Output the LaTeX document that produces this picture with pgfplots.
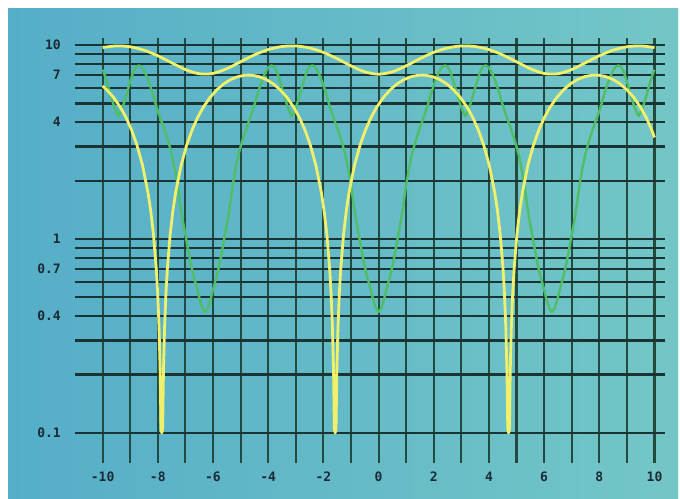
\documentclass[border=0pt]{standalone}
\usepackage{pgfplots}
\pgfplotsset{compat=1.18}
\usepackage{fontspec}
\setmainfont{DejaVu Sans Mono}
\setmonofont{DejaVu Sans Mono}
\definecolor{bgL}{HTML}{55AEC8}
\definecolor{bgR}{HTML}{74C6C6}
\definecolor{hgrid}{HTML}{1A3434}
\definecolor{vgrid}{HTML}{224A3E}
\definecolor{labc}{HTML}{1C2A36}
\definecolor{ylw}{HTML}{F0F06A}
\definecolor{grn}{HTML}{4FBE66}
\begin{document}
\begin{tikzpicture}[x=1pt,y=1pt]
\fill[white] (0,0) rectangle (680,498);
\shade[left color=bgL, right color=bgR] (8,0) rectangle (678,489);
\begin{axis}[
  at={(75pt,35pt)}, anchor=south west, scale only axis,
  width=590pt, height=425pt,
  xmin=-11, xmax=10.38, ymode=log, ymin=0.07, ymax=10.87,
  axis line style={draw=none},
  major tick length=0pt, minor tick length=0pt,
  xtick={-10,-9,...,10},
  xticklabels={-10,,-8,,-6,,-4,,-2,,0,,2,,4,,6,,8,,10},
  ytick={0.1,0.2,0.3,0.4,0.5,0.6,0.7,0.8,0.9,1,2,3,4,5,6,7,8,9,10},
  yticklabels={0.1,,,0.4,,,0.7,,,1,,,4,,,7,,,10},
  grid=major,
  major x grid style={vgrid, line width=2.1pt},
  major y grid style={hgrid, line width=2.2pt},
  tick label style={font=\fontsize{13}{13}\selectfont\bfseries, text=labc, inner sep=0pt},
  yticklabel style={anchor=east, xshift=-14pt},
  xticklabel style={anchor=north, yshift=-9pt},
  clip=true,
]
% green curve
\addplot[grn, line width=2.4pt, line join=round] coordinates {
(-10,7.45) (-9.966,7.3) (-9.866,6.6) (-9.766,5.9) (-9.666,5.25) (-9.566,4.75) (-9.466,4.4) (-9.425,4.3)
(-9.383,4.4) (-9.283,4.75) (-9.183,5.25) (-9.083,5.9) (-8.983,6.6) (-8.883,7.3) (-8.783,7.75) (-8.683,7.85) (-8.583,7.7) (-8.483,7.3) (-8.383,6.8) (-8.283,6.2) (-8.183,5.6) (-8.083,5.0) (-7.983,4.5) (-7.883,4.1) (-7.783,3.75) (-7.683,3.4) (-7.583,3.05) (-7.483,2.7) (-7.383,2.3) (-7.283,1.9) (-7.183,1.5) (-7.083,1.22) (-6.983,1.02) (-6.883,0.85) (-6.783,0.72) (-6.683,0.63) (-6.583,0.56) (-6.483,0.49) (-6.383,0.44) (-6.283,0.42)
(-6.183,0.44) (-6.083,0.49) (-5.983,0.56) (-5.883,0.63) (-5.783,0.72) (-5.683,0.85) (-5.583,1.02) (-5.483,1.22) (-5.383,1.5) (-5.283,1.9) (-5.183,2.3) (-5.083,2.7) (-4.983,3.05) (-4.883,3.4) (-4.783,3.75) (-4.683,4.1) (-4.583,4.5) (-4.483,5.0) (-4.383,5.6) (-4.283,6.2) (-4.183,6.8) (-4.083,7.3) (-3.983,7.7) (-3.883,7.85) (-3.783,7.75) (-3.683,7.3) (-3.583,6.6) (-3.483,5.9) (-3.383,5.25) (-3.283,4.75) (-3.183,4.4) (-3.142,4.3)
(-3.1,4.4) (-3.0,4.75) (-2.9,5.25) (-2.8,5.9) (-2.7,6.6) (-2.6,7.3) (-2.5,7.75) (-2.4,7.85) (-2.3,7.7) (-2.2,7.3) (-2.1,6.8) (-2.0,6.2) (-1.9,5.6) (-1.8,5.0) (-1.7,4.5) (-1.6,4.1) (-1.5,3.75) (-1.4,3.4) (-1.3,3.05) (-1.2,2.7) (-1.1,2.3) (-1.0,1.9) (-0.9,1.5) (-0.8,1.22) (-0.7,1.02) (-0.6,0.85) (-0.5,0.72) (-0.4,0.63) (-0.3,0.56) (-0.2,0.49) (-0.1,0.44) (0,0.42)
(0.1,0.44) (0.2,0.49) (0.3,0.56) (0.4,0.63) (0.5,0.72) (0.6,0.85) (0.7,1.02) (0.8,1.22) (0.9,1.5) (1.0,1.9) (1.1,2.3) (1.2,2.7) (1.3,3.05) (1.4,3.4) (1.5,3.75) (1.6,4.1) (1.7,4.5) (1.8,5.0) (1.9,5.6) (2.0,6.2) (2.1,6.8) (2.2,7.3) (2.3,7.7) (2.4,7.85) (2.5,7.75) (2.6,7.3) (2.7,6.6) (2.8,5.9) (2.9,5.25) (3.0,4.75) (3.1,4.4) (3.142,4.3)
(3.183,4.4) (3.283,4.75) (3.383,5.25) (3.483,5.9) (3.583,6.6) (3.683,7.3) (3.783,7.75) (3.883,7.85) (3.983,7.7) (4.083,7.3) (4.183,6.8) (4.283,6.2) (4.383,5.6) (4.483,5.0) (4.583,4.5) (4.683,4.1) (4.783,3.75) (4.883,3.4) (4.983,3.05) (5.083,2.7) (5.183,2.3) (5.283,1.9) (5.383,1.5) (5.483,1.22) (5.583,1.02) (5.683,0.85) (5.783,0.72) (5.883,0.63) (5.983,0.56) (6.083,0.49) (6.183,0.44) (6.283,0.42)
(6.383,0.44) (6.483,0.49) (6.583,0.56) (6.683,0.63) (6.783,0.72) (6.883,0.85) (6.983,1.02) (7.083,1.22) (7.183,1.5) (7.283,1.9) (7.383,2.3) (7.483,2.7) (7.583,3.05) (7.683,3.4) (7.783,3.75) (7.883,4.1) (7.983,4.5) (8.083,5.0) (8.183,5.6) (8.283,6.2) (8.383,6.8) (8.483,7.3) (8.583,7.7) (8.683,7.85) (8.783,7.75) (8.883,7.3) (8.983,6.6) (9.083,5.9) (9.183,5.25) (9.283,4.75) (9.383,4.4) (9.425,4.3)
(9.466,4.4) (9.566,4.75) (9.666,5.25) (9.766,5.9) (9.866,6.6) (9.966,7.3) (10,7.45)
};
% upper yellow curve
\addplot[ylw, line width=2.8pt, smooth, line join=round] coordinates {
(-10,9.703) (-9.5,9.896) (-9,9.791) (-8.5,9.405) (-8,8.803) (-7.5,8.104) (-7,7.477) (-6.5,7.111) (-6,7.138) (-5.5,7.549) (-5,8.197) (-4.5,8.892) (-4,9.470) (-3.5,9.822) (-3,9.887) (-2.5,9.655) (-2,9.165) (-1.5,8.503) (-1,7.812) (-0.5,7.276)
(0,7.071) (0.5,7.276) (1,7.812) (1.5,8.503) (2,9.165) (2.5,9.655) (3,9.887) (3.5,9.822) (4,9.470) (4.5,8.892) (5,8.197) (5.5,7.549) (6,7.138) (6.5,7.111) (7,7.477) (7.5,8.104) (8,8.803) (8.5,9.405) (9,9.791) (9.5,9.896) (10,9.703)
};
% lower yellow curve
\addplot[ylw, line width=2.8pt, line join=round] coordinates {
(-10,6.151) (-9.854,5.890) (-9.604,5.372) (-9.354,4.771) (-9.154,4.237) (-8.954,3.659) (-8.754,3.045) (-8.554,2.400) (-8.354,1.732) (-8.254,1.391) (-8.154,1.046) (-8.054,0.699) (-8.004,0.525) (-7.954,0.35) (-7.914,0.21) (-7.884,0.105) (-7.854,0.1)
(-7.824,0.105) (-7.794,0.21) (-7.754,0.35) (-7.704,0.525) (-7.654,0.699) (-7.554,1.046) (-7.454,1.391) (-7.354,1.732) (-7.154,2.400) (-6.954,3.045) (-6.754,3.659) (-6.554,4.237) (-6.354,4.771) (-6.104,5.372) (-5.854,5.890) (-5.604,6.316) (-5.354,6.643) (-5.104,6.866) (-4.854,6.982) (-4.712,7.0)
(-4.571,6.982) (-4.321,6.866) (-4.071,6.643) (-3.821,6.316) (-3.571,5.890) (-3.321,5.372) (-3.071,4.771) (-2.871,4.237) (-2.671,3.659) (-2.471,3.045) (-2.271,2.400) (-2.071,1.732) (-1.971,1.391) (-1.871,1.046) (-1.771,0.699) (-1.721,0.525) (-1.671,0.35) (-1.631,0.21) (-1.601,0.105) (-1.571,0.1)
(-1.541,0.105) (-1.511,0.21) (-1.471,0.35) (-1.421,0.525) (-1.371,0.699) (-1.271,1.046) (-1.171,1.391) (-1.071,1.732) (-0.871,2.400) (-0.671,3.045) (-0.471,3.659) (-0.271,4.237) (-0.071,4.771) (0.179,5.372) (0.429,5.890) (0.679,6.316) (0.929,6.643) (1.179,6.866) (1.429,6.982) (1.571,7.0)
(1.712,6.982) (1.962,6.866) (2.212,6.643) (2.462,6.316) (2.712,5.890) (2.962,5.372) (3.212,4.771) (3.412,4.237) (3.612,3.659) (3.812,3.045) (4.012,2.400) (4.212,1.732) (4.312,1.391) (4.412,1.046) (4.512,0.699) (4.562,0.525) (4.612,0.35) (4.652,0.21) (4.682,0.105) (4.712,0.1)
(4.742,0.105) (4.772,0.21) (4.812,0.35) (4.862,0.525) (4.912,0.699) (5.012,1.046) (5.112,1.391) (5.212,1.732) (5.412,2.400) (5.612,3.045) (5.812,3.659) (6.012,4.237) (6.212,4.771) (6.462,5.372) (6.712,5.890) (6.962,6.316) (7.212,6.643) (7.462,6.866) (7.712,6.982) (7.854,7.0)
(7.995,6.982) (8.245,6.866) (8.495,6.643) (8.745,6.316) (8.995,5.890) (9.245,5.372) (9.495,4.771) (9.695,4.237) (9.895,3.659) (10,3.340)
};
\end{axis}
\end{tikzpicture}
\end{document}
